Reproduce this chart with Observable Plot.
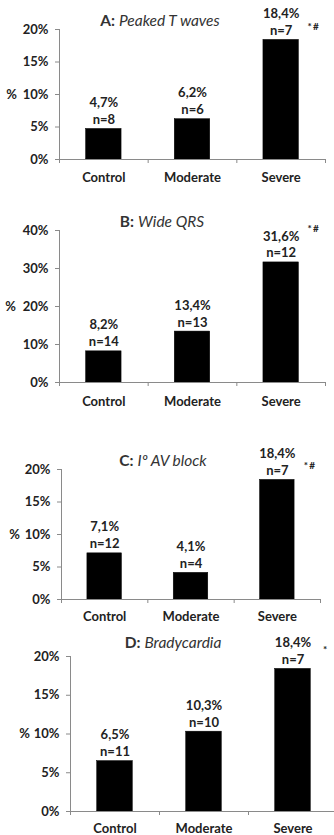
<!DOCTYPE html>
<html><head><meta charset="utf-8">
<script src="https://cdn.jsdelivr.net/npm/d3@7"></script>
<script src="https://cdn.jsdelivr.net/npm/@observablehq/plot@0.6"></script>
<style>
body{margin:0;background:#fff;}
#wrap{position:relative;width:334px;height:835px;overflow:hidden;font-family:Lato,"Open Sans",sans-serif;background:#fff;}
.panel{position:absolute;left:0;}
.title{position:absolute;transform:translate(-50%,-50%);white-space:nowrap;font-size:15.5px;color:#333;}
.title b{font-weight:bold;}
.title i{font-style:italic;}
</style></head><body><div id="wrap"></div>
<script>
const categories = ["Control", "Moderate", "Severe"];
const titleLetters = ["A:", "B:", "C:", "D:"];
const titleNames = ["Peaked T waves", "Wide QRS", "Iº AV block", "Bradycardia"];
const pctA = [4.7, 6.2, 18.4];
const nA = [8, 6, 7];
const pctB = [8.2, 13.4, 31.6];
const nB = [14, 13, 12];
const pctC = [7.1, 4.1, 18.4];
const nC = [12, 4, 7];
const pctD = [6.5, 10.3, 18.4];
const nD = [11, 10, 7];
const yMaxes = [20, 40, 20, 20];
const yTickSteps = [5, 10, 5, 5];
const significance = ["*#", "*#", "*#", "*"];

const pcts = [pctA, pctB, pctC, pctD];
const ns = [nA, nB, nC, nD];

// layout per panel (pixels)
const layout = [
  {top: 0,   h: 200, w: 334, ml: 59, mr: 9,  mt: 29, mb: 41, tx: 160, ty: 20, sigDy: -13, pctX: 11, catPad: 13},
  {top: 200, h: 210, w: 334, ml: 59, mr: 9,  mt: 30, mb: 28, tx: 162, ty: 21, sigDy: -34, pctX: 10, catPad: 14},
  {top: 410, h: 215, w: 334, ml: 61, mr: 14, mt: 59, mb: 26, tx: 163, ty: 50, sigDy: -14, pctX: 14, catPad: 12},
  {top: 625, h: 210, w: 340, ml: 70, mr: 3,  mt: 31, mb: 24, tx: 173, ty: 17, sigDy: -19, pctX: 24, catPad: 12}
];

const fmt = v => v.toFixed(1).replace(".", ",") + "%";
const wrap = document.getElementById("wrap");
const ink = "#222";
const axisGrey = "#8a8a8a";
const font = "Lato, 'Open Sans', sans-serif";

layout.forEach((L, p) => {
  const rows = categories.map((c, i) => ({i, cat: c, pct: pcts[p][i], n: ns[p][i]}));
  const yMax = yMaxes[p];
  const chart = Plot.plot({
    width: L.w,
    height: L.h,
    marginLeft: L.ml,
    marginRight: L.mr,
    marginTop: L.mt,
    marginBottom: L.mb,
    style: {fontFamily: font, background: "transparent", overflow: "visible"},
    x: {domain: [0, 3]},
    y: {domain: [0, yMax]},
    marks: [
      Plot.rectY(rows, {x1: d => d.i + 0.3, x2: d => d.i + 0.7, y: "pct", fill: "black", stroke: "black", strokeWidth: 0.5}),
      Plot.text(rows, {
        x: d => d.i + 0.5, y: "pct",
        text: d => fmt(d.pct) + "\nn=" + d.n,
        lineAnchor: "bottom", dy: -5, lineHeight: 1.3,
        fontSize: 13, fontWeight: "bold", fill: ink
      }),
      Plot.text([rows[2]], {
        x: d => d.i + 0.5, y: "pct", text: () => significance[p].split("").join("\u2009"),
        dx: 32, dy: L.sigDy, fontSize: 10, fontWeight: "bold", fill: ink
      }),
      Plot.text(["%"], {
        frameAnchor: "left", y: [yMax / 2], text: d => d,
        dx: L.pctX - L.ml, fontSize: 13, fontWeight: "bold", fill: ink, textAnchor: "middle"
      }),
      Plot.frame({anchor: "left", stroke: axisGrey}),
      Plot.ruleY([0], {stroke: axisGrey}),
      Plot.axisY({
        ticks: d3.range(0, yMax + 1, yTickSteps[p]),
        tickFormat: d => d + "%",
        tickSize: 4, tickPadding: 7, label: null,
        fontSize: 13, fontWeight: "bold", fill: ink, stroke: axisGrey
      }),
      Plot.axisX({
        ticks: [0, 1, 2, 3], tickFormat: () => "",
        tickSize: 4, label: null, stroke: axisGrey
      }),
      Plot.axisX({
        ticks: [0.5, 1.5, 2.5], tickFormat: d => categories[Math.floor(d)],
        tickSize: 0, tickPadding: L.catPad, label: null,
        fontSize: 13, fontWeight: "bold", fill: ink
      })
    ]
  });
  const div = document.createElement("div");
  div.className = "panel";
  div.style.top = L.top + "px";
  div.style.width = L.w + "px";
  div.style.height = L.h + "px";
  div.appendChild(chart);
  const t = document.createElement("div");
  t.className = "title";
  t.style.left = L.tx + "px";
  t.style.top = L.ty + "px";
  t.innerHTML = "<b>" + titleLetters[p] + "</b> <i>" + titleNames[p] + "</i>";
  div.appendChild(t);
  wrap.appendChild(div);
});
</script>
</body></html>
